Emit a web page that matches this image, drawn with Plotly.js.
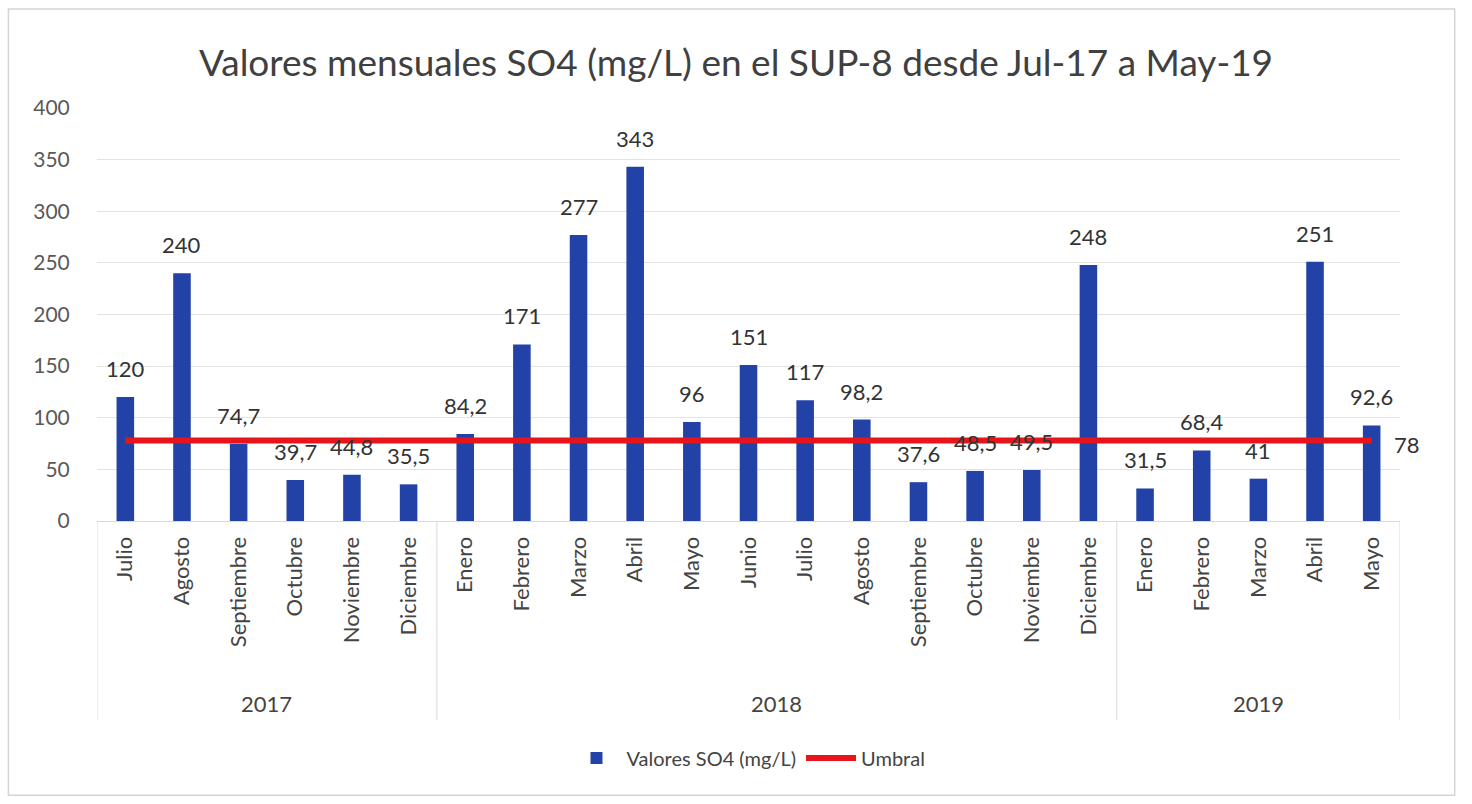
<!DOCTYPE html>
<html><head><meta charset="utf-8">
<script src="https://cdn.plot.ly/plotly-3.0.1.min.js"></script>
<style>body{margin:0;background:#fff}#chart{width:1472px;height:804px}</style>
</head><body><div id="chart"></div>
<script>
const years = ["2017","2017","2017","2017","2017","2017",
  "2018","2018","2018","2018","2018","2018","2018","2018","2018","2018","2018","2018",
  "2019","2019","2019","2019","2019"];
const months = ["Julio","Agosto","Septiembre","Octubre","Noviembre","Diciembre",
  "Enero","Febrero","Marzo","Abril","Mayo","Junio","Julio","Agosto","Septiembre","Octubre","Noviembre","Diciembre",
  "Enero","Febrero","Marzo","Abril","Mayo"];
const so4 = [120,240,74.7,39.7,44.8,35.5,84.2,171,277,343,96,151,117,98.2,37.6,48.5,49.5,248,31.5,68.4,41,251,92.6];
const umbral = [78,78,78,78,78,78,78,78,78,78,78,78,78,78,78,78,78,78,78,78,78,78,78];
const yTicks = [0,50,100,150,200,250,300,350,400];

const fontFam = "Lato, 'Open Sans', sans-serif";
const fmt = v => String(v).replace('.', ',');
const keys = months.map((m, i) => years[i] + ' ' + m);

// year groups derived from the data
const groups = [];
years.forEach((y, i) => {
  if (!groups.length || groups[groups.length-1].year !== y) groups.push({year:y, start:i, end:i});
  else groups[groups.length-1].end = i;
});

const bottomY = -0.482;
const shapes = [];
const bounds = [-0.5].concat(groups.map(g => g.end + 0.5));
bounds.forEach(b => shapes.push({type:'line', xref:'x', yref:'paper', x0:b, x1:b, y0:0, y1:bottomY,
  line:{color:'#d9d9d9', width:1}}));
shapes.push({type:'rect', xref:'paper', yref:'paper', x0:-0.068, x1:1.042, y0:-0.664, y1:1.24,
  line:{color:'#d4d4d4', width:1.5}, fillcolor:'rgba(0,0,0,0)', layer:'below'});

const annotations = groups.map(g => ({xref:'x', yref:'paper', x:(g.start + g.end)/2, y:-0.441,
  text:g.year, showarrow:false, xanchor:'center', yanchor:'middle',
  font:{family:fontFam, size:22, color:'#444'}}));
// data labels above bars
so4.forEach((v, i) => annotations.push({xref:'x', yref:'y', x:keys[i], y:v, text:fmt(v),
  showarrow:false, xanchor:'center', yanchor:'bottom', yshift:13,
  font:{family:fontFam, size:22, color:'#333'}}));
annotations.push({xref:'x', yref:'y', x:keys[keys.length-1], y:umbral[umbral.length-1],
  text:fmt(umbral[umbral.length-1]), showarrow:false, xanchor:'left', yanchor:'middle', xshift:20, yshift:-4,
  font:{family:fontFam, size:22, color:'#333'}});

const traces = [
  {type:'bar', name:'Valores SO4 (mg/L)', x:keys, y:so4, marker:{color:'#2342a8'}},
  {type:'scatter', mode:'lines', name:'Umbral', x:keys, y:umbral,
   line:{color:'#e8141b', width:6}}
];

const layout = {
  width:1472, height:804,
  paper_bgcolor:'#fff', plot_bgcolor:'#fff',
  margin:{l:97, r:72, t:108, b:283},
  title:{text:'Valores mensuales SO4 (mg/L) en el SUP-8 desde Jul-17 a May-19',
         font:{family:fontFam, size:37, color:'#404040'}, x:0.5, xanchor:'center', y:0.922, yanchor:'middle'},
  font:{family:fontFam, color:'#555'},
  bargap:0.69,
  showlegend:true,
  legend:{orientation:'h', x:0.5, xanchor:'center', y:-0.574, yanchor:'middle',
          font:{family:fontFam, size:20, color:'#444'}, traceorder:'normal', itemwidth:50},
  xaxis:{type:'category', range:[-0.5, keys.length-0.5], tickvals:keys, ticktext:months, tickangle:-90,
         tickfont:{family:fontFam, size:22, color:'#444'},
         showline:true, linecolor:'#d9d9d9', ticks:'outside', ticklen:6, tickcolor:'#fff', showgrid:false},
  yaxis:{range:[0,400], tickvals:yTicks, ticktext:yTicks.map(String), showgrid:true, gridcolor:'#e3e3e3',
         zeroline:false, tickfont:{family:fontFam, size:21, color:'#595959'}, ticks:'outside', tickcolor:'#fff', ticklen:22},
  shapes:shapes,
  annotations:annotations
};

Plotly.newPlot('chart', traces, layout, {displayModeBar:false, responsive:false});
</script></body></html>
